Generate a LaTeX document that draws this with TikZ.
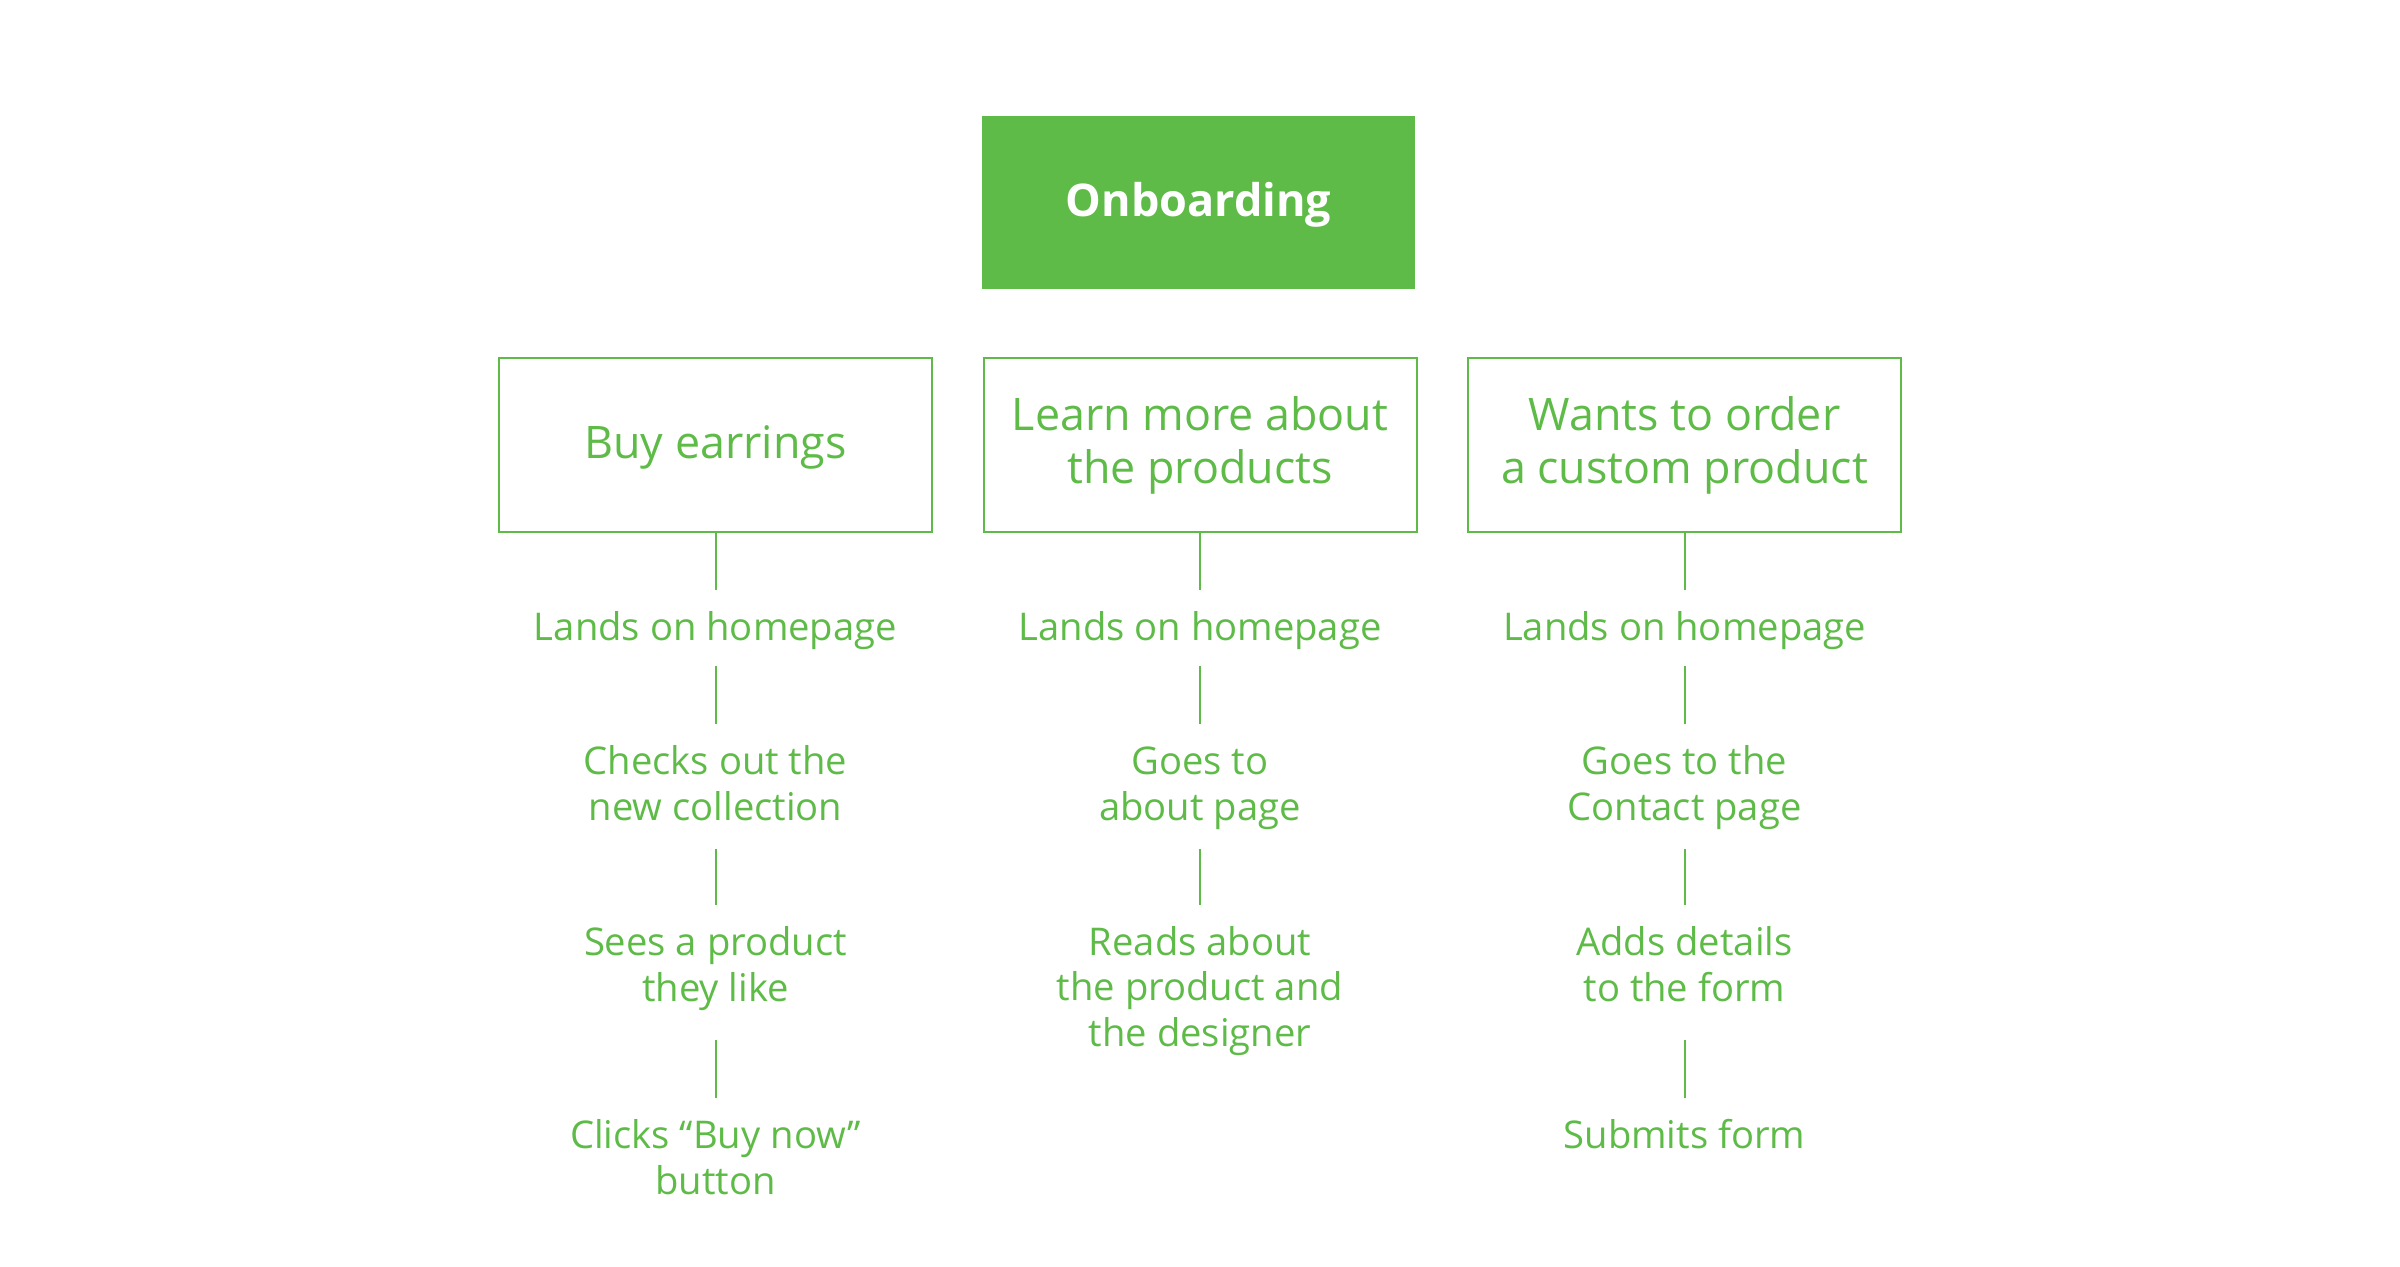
\documentclass[tikz,border=0pt]{standalone}
\usepackage{fontspec}
\setmainfont{Open Sans}
\definecolor{brandgreen}{HTML}{5EBB47}
\newcommand\boxtxt[2]{\raisebox{0pt}[20pt][#1]{\begin{tabular}[t]{@{}c@{}}#2\end{tabular}}}
\newcommand\steptxt[2]{\raisebox{0pt}[25.25pt][#1]{\begin{tabular}[t]{@{}c@{}}#2\end{tabular}}}
\tikzset{
  headbox/.style={rectangle, fill=brandgreen, draw=none, minimum width=216.5pt, minimum height=86.5pt,
    inner sep=0pt, outer sep=0pt, text=white, font=\fontsize{22.5}{27}\selectfont\bfseries},
  goalbox/.style={rectangle, draw=brandgreen, line width=1pt, minimum width=216.5pt, minimum height=86.7pt,
    inner sep=0pt, outer sep=0pt, text=brandgreen, font=\fontsize{22.4}{26.1}\selectfont},
  stepnode/.style={inner sep=0pt, outer sep=0pt, anchor=base, text=brandgreen,
    font=\fontsize{19.1}{22.85}\selectfont},
  conn/.style={draw=brandgreen, line width=1pt}
}
\begin{document}
\begin{tikzpicture}[x=0.5pt,y=-0.5pt]
\useasboundingbox (0,0) rectangle (2400,1267);
% header
\node[headbox] (top) at (1198.5,202.5) {\raisebox{0pt}[20pt][5.8pt]{Onboarding}};
% goal boxes
\node[goalbox] (b1) at (715.5,445) {\boxtxt{6.7pt}{Buy earrings}};
\node[goalbox] (b2) at (1200,445) {\boxtxt{34pt}{Learn more about\\the products}};
\node[goalbox] (b3) at (1684.5,445) {\boxtxt{34pt}{Wants to order\\a custom product}};
% column 1
\node[stepnode] (s11) at (715.5,640.7) {\steptxt{12.65pt}{Lands on homepage}};
\node[stepnode] (s12) at (715.5,774.3) {\steptxt{37.35pt}{Checks out the\\new collection}};
\node[stepnode] (s13) at (715.5,955.7) {\steptxt{42.15pt}{Sees a product\\they like}};
\node[stepnode] (s14) at (715.5,1148.3) {\steptxt{37.35pt}{Clicks “Buy now”\\button}};
% column 2
\node[stepnode] (s21) at (1200,640.7) {\steptxt{12.65pt}{Lands on homepage}};
\node[stepnode] (s22) at (1200,774.3) {\steptxt{37.35pt}{Goes to\\about page}};
\node[stepnode] (s23) at (1200,955) {\steptxt{60.7pt}{Reads about\\the product and\\the designer}};
% column 3
\node[stepnode] (s31) at (1684.5,640.7) {\steptxt{12.65pt}{Lands on homepage}};
\node[stepnode] (s32) at (1684.5,774.3) {\steptxt{37.35pt}{Goes to the\\Contact page}};
\node[stepnode] (s33) at (1684.5,955.7) {\steptxt{42.15pt}{Adds details\\to the form}};
\node[stepnode] (s34) at (1684.5,1148.3) {\steptxt{12.65pt}{Submits form}};
% connectors
\draw[conn] (b1.south) -- (s11.north);
\draw[conn] (s11.south) -- (s12.north);
\draw[conn] (s12.south) -- (s13.north);
\draw[conn] (s13.south) -- (s14.north);
\draw[conn] (b2.south) -- (s21.north);
\draw[conn] (s21.south) -- (s22.north);
\draw[conn] (s22.south) -- (s23.north);
\draw[conn] (b3.south) -- (s31.north);
\draw[conn] (s31.south) -- (s32.north);
\draw[conn] (s32.south) -- (s33.north);
\draw[conn] (s33.south) -- (s34.north);
\end{tikzpicture}
\end{document}
